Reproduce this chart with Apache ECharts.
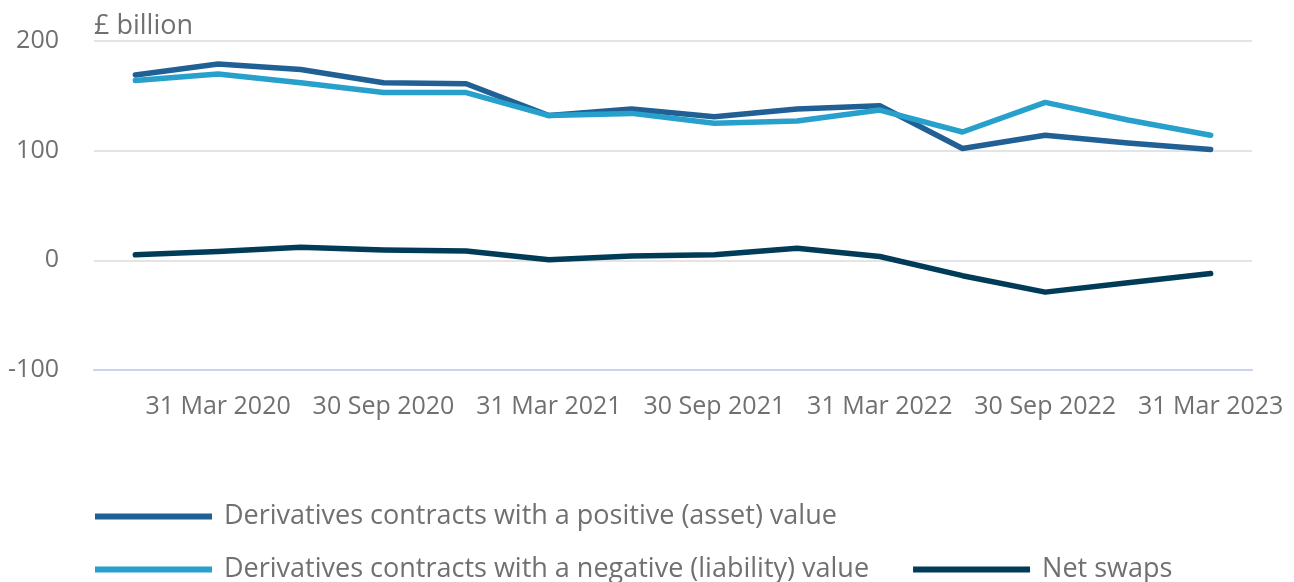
<!DOCTYPE html>
<html>
<head>
<meta charset="utf-8">
<script src="https://cdn.jsdelivr.net/npm/echarts@6/dist/echarts.min.js"></script>
<style>
  html, body { margin: 0; padding: 0; background: #fff; }
  #chart { width: 1294px; height: 582px; }
</style>
</head>
<body>
<div id="chart"></div>
<script>
'use strict';

// quarters, Dec 2019 - Mar 2023
var quarters = ['31 Dec 2019', '31 Mar 2020', '30 Jun 2020', '30 Sep 2020', '31 Dec 2020',
    '31 Mar 2021', '30 Jun 2021', '30 Sep 2021', '31 Dec 2021', '31 Mar 2022',
    '30 Jun 2022', '30 Sep 2022', '31 Dec 2022', '31 Mar 2023'];

var positiveValue = [169, 179, 174, 162, 161, 132, 138, 131, 138, 141, 102, 114, 107, 101];
var negativeValue = [164, 170, 162, 153, 153, 132, 134, 125, 127, 137, 117, 144, 128, 114];
var netSwaps = [5, 8, 12, 9.5, 8.5, 0.5, 4, 5, 11, 3.5, -14, -29, -20.5, -12];

var yTicks = [-100, 0, 100, 200];

var seriesNames = [
    'Derivatives contracts with a positive (asset) value',
    'Derivatives contracts with a negative (liability) value',
    'Net swaps'
];

var textGrey = '#707071';
var fontFamily = '"Open Sans", sans-serif';

var chart = echarts.init(document.getElementById('chart'));

var showOdd = function (idx) {
    return idx % 2 === 1;
};

// legend look shared by both rows
var legendBase = {
    itemWidth: 117,
    itemHeight: 6,
    itemGap: 44,
    icon: 'rect',
    textStyle: {color: textGrey, fontSize: 27, fontFamily: fontFamily, padding: [0, 0, 0, 7]}
};

chart.setOption({
    animation: false,
    textStyle: {fontFamily: fontFamily},
    color: ['#206095', '#27a0cc', '#003c57'],
    grid: {left: 94, right: 42, top: 41, bottom: 212},
    legend: [
        Object.assign({left: 90, top: 498, data: [seriesNames[0]]}, legendBase),
        Object.assign({left: 90, top: 551, data: [seriesNames[1], seriesNames[2]]}, legendBase)
    ],
    xAxis: {
        type: 'category',
        data: quarters,
        boundaryGap: true,
        axisLine: {onZero: false, lineStyle: {color: '#c9d4ea', width: 2}},
        axisTick: {alignWithLabel: true, interval: showOdd, length: 21, lineStyle: {color: '#c9d4ea', width: 2}},
        axisLabel: {
            interval: showOdd,
            color: textGrey,
            fontSize: 25,
            margin: 24
        },
        splitLine: {show: false}
    },
    yAxis: {
        type: 'value',
        min: yTicks[0],
        max: yTicks[yTicks.length - 1],
        interval: 100,
        name: '£ billion',
        nameLocation: 'end',
        nameGap: 1,
        nameTextStyle: {color: textGrey, fontSize: 27, align: 'left'},
        axisLine: {show: false},
        axisTick: {show: false},
        axisLabel: {color: textGrey, fontSize: 25, margin: 35},
        splitLine: {lineStyle: {color: '#e4e4e4', width: 2}}
    },
    series: [
        {name: seriesNames[0], type: 'line', data: positiveValue, symbol: 'none',
            lineStyle: {width: 5.5, cap: 'round', join: 'round'}},
        {name: seriesNames[1], type: 'line', data: negativeValue, symbol: 'none',
            lineStyle: {width: 5.5, cap: 'round', join: 'round'}},
        {name: seriesNames[2], type: 'line', data: netSwaps, symbol: 'none',
            lineStyle: {width: 5.5, cap: 'round', join: 'round'}}
    ]
});
</script>
</body>
</html>
